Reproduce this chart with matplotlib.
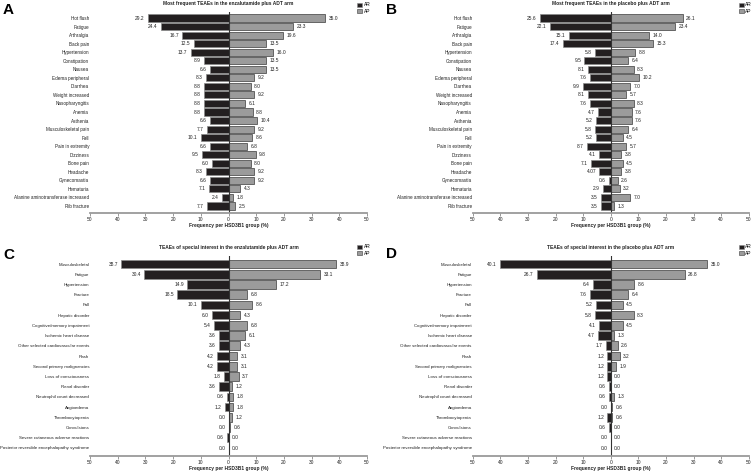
import matplotlib
matplotlib.use('agg')
from matplotlib import pyplot as plt
import matplotlib.patches as mpatches
import numpy as np

plt.rcParams['font.family'] = ['Liberation Sans', 'DejaVu Sans']

# panel A / B categories (most frequent TEAEs)
freq_cats = ["Hot flush", "Fatigue", "Arthralgia", "Back pain", "Hypertension", "Constipation",
             "Nausea", "Edema peripheral", "Diarrhea", "Weight increased", "Nasopharyngitis",
             "Anemia", "Asthenia", "Musculoskeletal pain", "Fall", "Pain in extremity",
             "Dizziness", "Bone pain", "Headache", "Gynecomastia", "Hematuria",
             "Alanine aminotransferase increased", "Rib fracture"]
a_ar = [29.2, 24.4, 16.7, 12.5, 13.7, 8.9, 6.6, 8.3, 8.8, 8.8, 8.8, 8.8, 6.6, 7.7, 10.1, 6.6,
        9.5, 6.0, 8.3, 6.6, 7.1, 2.4, 7.7]
a_ap = [35.0, 23.3, 19.6, 13.5, 16.0, 13.5, 13.5, 9.2, 8.0, 9.2, 6.1, 8.8, 10.4, 9.2, 8.6, 6.8,
        9.8, 8.0, 9.2, 9.2, 4.3, 1.8, 2.5]
b_ar = [25.6, 22.1, 15.1, 17.4, 5.8, 9.5, 8.1, 7.6, 9.9, 8.1, 7.6, 4.7, 5.2, 5.8, 5.2, 8.7,
        4.1, 7.1, 4.07, 0.6, 2.9, 3.5, 3.5]
b_ap = [26.1, 23.4, 14.0, 15.3, 8.8, 6.4, 8.3, 10.2, 7.0, 5.7, 8.3, 7.6, 7.6, 6.4, 4.5, 5.7,
        3.8, 4.5, 3.8, 2.6, 3.2, 7.0, 1.3]

# panel C / D categories (TEAEs of special interest)
spec_cats = ["Musculoskeletal", "Fatigue", "Hypertension", "Fracture", "Fall", "Hepatic disorder",
             "Cognitive/memory impairment", "Ischemic heart disease",
             "Other selected cardiovascular events", "Rash", "Second primary malignancies",
             "Loss of consciousness", "Renal disorder", "Neutrophil count decreased",
             "Angioedema", "Thrombocytopenia", "Convulsions",
             "Severe cutaneous adverse reactions",
             "Posterior reversible encephalopathy syndrome"]
c_ar = [38.7, 30.4, 14.9, 18.5, 10.1, 6.0, 5.4, 3.6, 3.6, 4.2, 4.2, 1.8, 3.6, 0.6, 1.2, 0.0,
        0.0, 0.6, 0.0]
c_ap = [38.9, 33.1, 17.2, 6.8, 8.6, 4.3, 6.8, 6.1, 4.3, 3.1, 3.1, 3.7, 1.2, 1.8, 1.8, 1.2,
        0.6, 0.0, 0.0]
d_ar = [40.1, 26.7, 6.4, 7.6, 5.2, 5.8, 4.1, 4.7, 1.7, 1.2, 1.2, 1.2, 0.6, 0.6, 0.0, 1.2,
        0.6, 0.0, 0.0]
d_ap = [35.0, 26.8, 8.6, 6.4, 4.5, 8.3, 4.5, 1.3, 2.6, 3.2, 1.9, 0.0, 0.0, 1.3, 0.6, 0.6,
        0.0, 0.0, 0.0]

ticks = [-50, -40, -30, -20, -10, 0, 10, 20, 30, 40, 50]

AR_COL = '#231f20'
AP_COL = '#9b9b9b'
FS = 3.5

W, H = 752, 471
fig = plt.figure(figsize=(W / 100, H / 100), dpi=100)


def fmt(v):
    return f"{v:.1f}" if round(v, 1) == v else str(v)


def panel(letter, title, xlabel, cats, ar, ap, x0, x1, ytop, ybot, row0, rowN, leg_y, letter_y,
          fs_cat=3.3):
    n = len(cats)
    ax = fig.add_axes([x0 / W, 1 - ybot / H, (x1 - x0) / W, (ybot - ytop) / H])
    y = np.arange(n)
    ar = np.array(ar)
    ap = np.array(ap)
    ax.barh(y, -ar, height=0.84, color=AR_COL, edgecolor='#8a8a8a', linewidth=0.5)
    ax.barh(y, ap, height=0.84, color=AP_COL, edgecolor='#3c3c3c', linewidth=0.5)
    for i in range(n):
        ax.text(-ar[i] - 1.2, y[i], fmt(ar[i]), ha='right', va='center', fontsize=FS, color='#222')
        ax.text(ap[i] + 1.2, y[i], fmt(ap[i]), ha='left', va='center', fontsize=FS, color='#222')
    # row spacing in pixels, to set limits so rows land where they should
    sp = (rowN - row0) / (n - 1)
    ax.set_ylim(n - 1 + (ybot - rowN) / sp, -(row0 - ytop) / sp)
    ax.set_xlim(-50, 50)
    ax.axvline(0, color='#333333', lw=0.8)
    ax.set_yticks(y)
    ax.set_yticklabels(cats, fontsize=fs_cat, color='#222')
    ax.tick_params(axis='y', length=0, pad=0.6)
    ax.set_xticks(ticks)
    ax.set_xticklabels([str(abs(t)) for t in ticks], fontsize=FS, color='#222')
    ax.tick_params(axis='x', length=2, width=0.6, color='#888888', pad=0.6)
    for s in ['top', 'left', 'right']:
        ax.spines[s].set_visible(False)
    ax.spines['bottom'].set_color('#9a9a9a')
    ax.spines['bottom'].set_linewidth(1.3)
    ax.set_xlabel(xlabel, fontsize=FS, fontweight='bold', color='#222', labelpad=0.8)
    cx = (x0 + x1) / 2 / W
    fig.text(cx, 1 - (ytop - 9) / H, title, ha='center', va='center', fontsize=FS,
             fontweight='bold', color='#222')
    fig.text((x0 - 87) / W, 1 - letter_y / H, letter, ha='left', va='center', fontsize=11,
             fontweight='bold')
    ar_patch = mpatches.Patch(facecolor=AR_COL, edgecolor='#8a8a8a', linewidth=0.4, label='AR')
    ap_patch = mpatches.Patch(facecolor=AP_COL, edgecolor='#3c3c3c', linewidth=0.4, label='AP')
    ax.legend(handles=[ar_patch, ap_patch], loc='upper left',
              bbox_to_anchor=((x1 - 12) / W, 1 - leg_y / H), bbox_transform=fig.transFigure,
              frameon=False, fontsize=FS, handlelength=0.9, handleheight=0.9,
              borderpad=0, labelspacing=0.25, handletextpad=0.4)
    return ax


panel('A', 'Most frequent TEAEs in the enzalutamide plus ADT arm',
      'Frequency per HSD3B1 group (%)', freq_cats, a_ar, a_ap,
      90, 367, 12, 213, 18, 206, 0, 10)
panel('B', 'Most frequent TEAEs in the placebo plus ADT arm',
      'Frequency per HSD3B1 group (%)', freq_cats, b_ar, b_ap,
      472.7, 748.7, 12, 213, 18, 206, 0, 10)
panel('C', 'TEAEs of special interest in the enzalutamide plus ADT arm',
      'Frequency per HSD3B1 group (%)', spec_cats, c_ar, c_ap,
      90, 367, 256, 456, 264, 448, 242, 255, fs_cat=3.15)
panel('D', 'TEAEs of special interest in the placebo plus ADT arm',
      'Frequency per HSD3B1 group (%)', spec_cats, d_ar, d_ap,
      472.7, 748.7, 256, 456, 264, 448, 242, 254, fs_cat=3.15)

plt.savefig('out.png', dpi=100)
